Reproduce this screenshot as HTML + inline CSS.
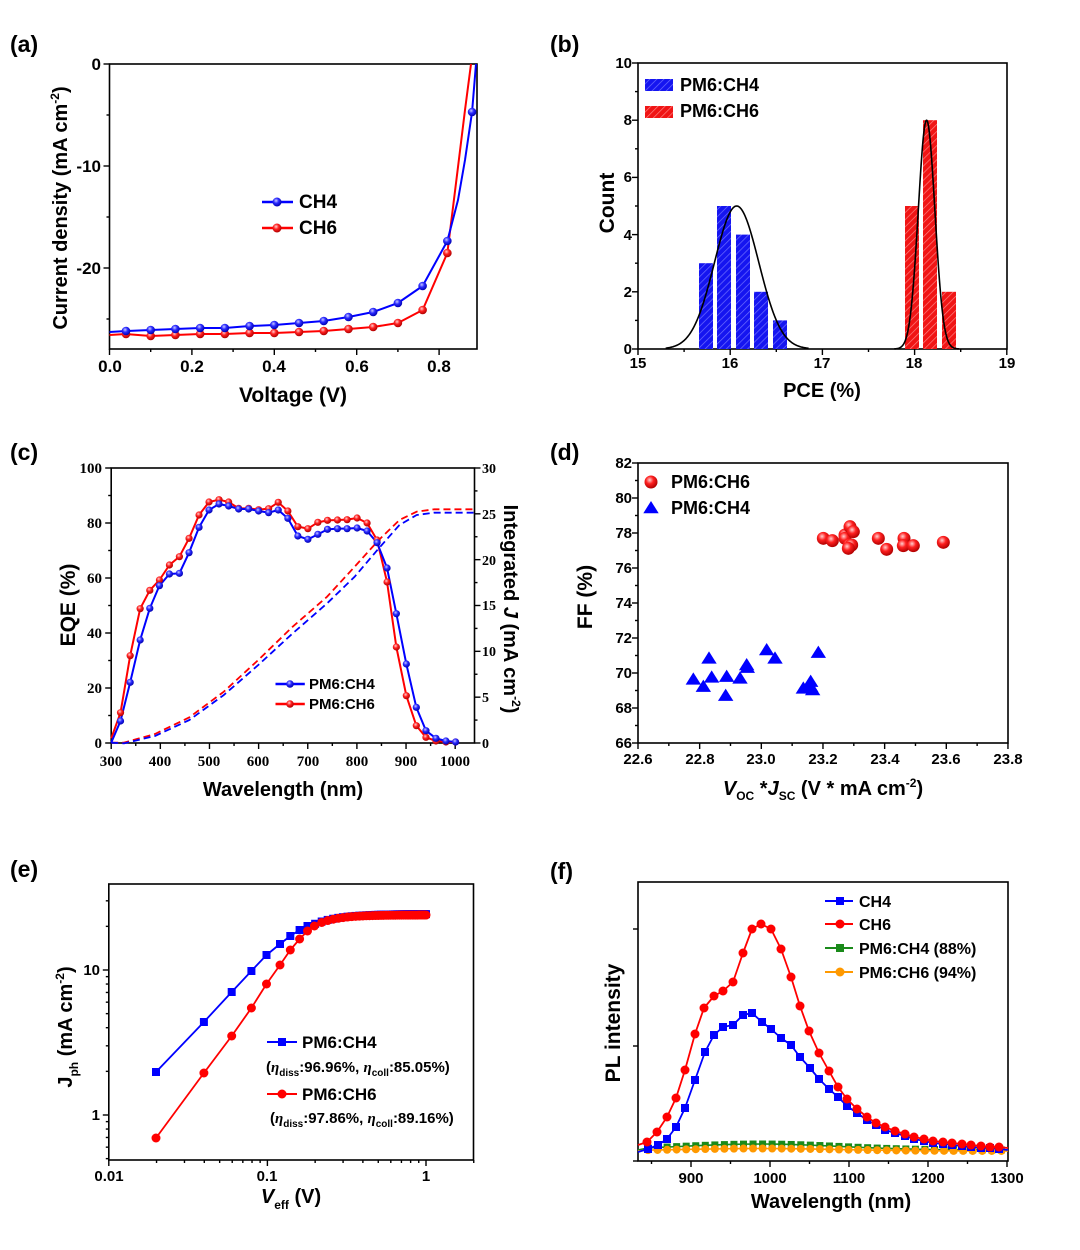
<!DOCTYPE html>
<html><head><meta charset="utf-8">
<style>
html,body{margin:0;padding:0;background:#fff;}
svg{display:block;font-family:"Liberation Sans",Arial,sans-serif;font-weight:bold;}
.serif{font-family:"Liberation Serif","Times New Roman",serif;font-weight:bold;}
</style></head>
<body>
<svg id="s" width="1080" height="1250" viewBox="0 0 1080 1250" xmlns="http://www.w3.org/2000/svg">
<defs>
<pattern id="hb" width="5" height="5" patternUnits="userSpaceOnUse" patternTransform="rotate(45)">
<rect width="5" height="5" fill="#1515f0"/><line x1="0" y1="0" x2="0" y2="5" stroke="#6f6fff" stroke-width="1.4"/></pattern>
<pattern id="hr" width="5" height="5" patternUnits="userSpaceOnUse" patternTransform="rotate(45)">
<rect width="5" height="5" fill="#f01515"/><line x1="0" y1="0" x2="0" y2="5" stroke="#ff8080" stroke-width="1.4"/></pattern>
<radialGradient id="gb" cx="0.4" cy="0.35" r="0.65"><stop offset="0" stop-color="#c8c8ff"/><stop offset="0.45" stop-color="#2a2aff"/><stop offset="1" stop-color="#0000b0"/></radialGradient>
<radialGradient id="gr" cx="0.4" cy="0.35" r="0.65"><stop offset="0" stop-color="#ffd0d0"/><stop offset="0.45" stop-color="#ff2020"/><stop offset="1" stop-color="#b00000"/></radialGradient>
</defs>
<g id="geo"></g>

<text x="10" y="52" font-size="23">(a)</text>
<text x="550" y="52" font-size="23">(b)</text>
<text x="10" y="460" font-size="23">(c)</text>
<text x="550" y="460" font-size="23">(d)</text>
<text x="10" y="877" font-size="23">(e)</text>
<text x="550" y="879" font-size="23">(f)</text>

<!-- (a) -->
<g font-size="17" text-anchor="middle">
<text x="110" y="372">0.0</text><text x="192" y="372">0.2</text><text x="274" y="372">0.4</text><text x="357" y="372">0.6</text><text x="439" y="372">0.8</text>
</g>
<g font-size="17" text-anchor="end">
<text x="101" y="70">0</text><text x="101" y="172">-10</text><text x="101" y="274">-20</text>
</g>
<text x="293" y="402" font-size="21" text-anchor="middle">Voltage (V)</text>
<text transform="translate(67,208) rotate(-90)" font-size="20" text-anchor="middle">Current density (mA cm<tspan font-size="12" dy="-8">-2</tspan><tspan dy="8">)</tspan></text>
<text x="299" y="208" font-size="19">CH4</text>
<text x="299" y="234" font-size="19">CH6</text>

<!-- (b) -->
<g font-size="15" text-anchor="middle">
<text x="638" y="368">15</text><text x="730" y="368">16</text><text x="822" y="368">17</text><text x="914" y="368">18</text><text x="1007" y="368">19</text>
</g>
<g font-size="15" text-anchor="end">
<text x="632" y="354">0</text><text x="632" y="297">2</text><text x="632" y="240">4</text><text x="632" y="182">6</text><text x="632" y="125">8</text><text x="632" y="68">10</text>
</g>
<text x="822" y="397" font-size="20" text-anchor="middle">PCE (%)</text>
<text transform="translate(614,203) rotate(-90)" font-size="21" text-anchor="middle">Count</text>
<rect x="645" y="79" width="28" height="12" fill="url(#hb)"/>
<rect x="645" y="106" width="28" height="12" fill="url(#hr)"/>
<text x="680" y="91" font-size="18">PM6:CH4</text>
<text x="680" y="117" font-size="18">PM6:CH6</text>

<!-- (c) -->
<g class="serif" font-size="15" text-anchor="middle">
<text x="111" y="766">300</text><text x="160" y="766">400</text><text x="209" y="766">500</text><text x="258" y="766">600</text><text x="308" y="766">700</text><text x="357" y="766">800</text><text x="406" y="766">900</text><text x="455" y="766">1000</text>
</g>
<g class="serif" font-size="15" text-anchor="end">
<text x="102" y="748">0</text><text x="102" y="693">20</text><text x="102" y="638">40</text><text x="102" y="583">60</text><text x="102" y="528">80</text><text x="102" y="473">100</text>
</g>
<g class="serif" font-size="14">
<text x="482" y="748">0</text><text x="482" y="702">5</text><text x="482" y="656">10</text><text x="482" y="610">15</text><text x="482" y="565">20</text><text x="482" y="519">25</text><text x="482" y="473">30</text>
</g>
<text x="283" y="796" font-size="20" text-anchor="middle">Wavelength (nm)</text>
<text transform="translate(75,605) rotate(-90)" font-size="21" text-anchor="middle">EQE (%)</text>
<text transform="translate(504,609) rotate(90)" font-size="20" text-anchor="middle">Integrated <tspan font-style="italic">J</tspan> (mA cm<tspan font-size="12" dy="-8">-2</tspan><tspan dy="8">)</tspan></text>
<text x="309" y="689" font-size="15">PM6:CH4</text>
<text x="309" y="709" font-size="15">PM6:CH6</text>

<!-- (d) -->
<g font-size="15" text-anchor="middle">
<text x="638" y="764">22.6</text><text x="700" y="764">22.8</text><text x="761" y="764">23.0</text><text x="823" y="764">23.2</text><text x="885" y="764">23.4</text><text x="946" y="764">23.6</text><text x="1008" y="764">23.8</text>
</g>
<g font-size="15" text-anchor="end">
<text x="632" y="748">66</text><text x="632" y="713">68</text><text x="632" y="678">70</text><text x="632" y="643">72</text><text x="632" y="608">74</text><text x="632" y="573">76</text><text x="632" y="538">78</text><text x="632" y="503">80</text><text x="632" y="468">82</text>
</g>
<text x="823" y="795" font-size="20" text-anchor="middle"><tspan font-style="italic">V</tspan><tspan font-size="12" dy="5">OC</tspan><tspan dy="-5"> *</tspan><tspan font-style="italic">J</tspan><tspan font-size="12" dy="5">SC</tspan><tspan dy="-5"> (V * mA cm</tspan><tspan font-size="12" dy="-8">-2</tspan><tspan dy="8">)</tspan></text>
<text transform="translate(592,597) rotate(-90)" font-size="21" text-anchor="middle">FF (%)</text>
<text x="671" y="488" font-size="18">PM6:CH6</text>
<text x="671" y="514" font-size="18">PM6:CH4</text>

<!-- (e) -->
<g font-size="15" text-anchor="middle">
<text x="109" y="1181">0.01</text><text x="267" y="1181">0.1</text><text x="426" y="1181">1</text>
</g>
<g font-size="15" text-anchor="end">
<text x="100" y="1120">1</text><text x="100" y="975">10</text>
</g>
<text x="291" y="1203" font-size="20" text-anchor="middle"><tspan font-style="italic">V</tspan><tspan font-size="12" dy="6">eff</tspan><tspan dy="-6"> (V)</tspan></text>
<text transform="translate(72,1027) rotate(-90)" font-size="20" text-anchor="middle">J<tspan font-size="12" dy="6">ph</tspan><tspan dy="-6"> (mA cm</tspan><tspan font-size="12" dy="-8">-2</tspan><tspan dy="8">)</tspan></text>
<text x="302" y="1048" font-size="17">PM6:CH4</text>
<text x="266" y="1072" font-size="15">(<tspan font-style="italic" font-family="Liberation Serif">η</tspan><tspan font-size="10" dy="4">diss</tspan><tspan dy="-4">:96.96%, </tspan><tspan font-style="italic" font-family="Liberation Serif">η</tspan><tspan font-size="10" dy="4">coll</tspan><tspan dy="-4">:85.05%)</tspan></text>
<text x="302" y="1100" font-size="17">PM6:CH6</text>
<text x="270" y="1123" font-size="15">(<tspan font-style="italic" font-family="Liberation Serif">η</tspan><tspan font-size="10" dy="4">diss</tspan><tspan dy="-4">:97.86%, </tspan><tspan font-style="italic" font-family="Liberation Serif">η</tspan><tspan font-size="10" dy="4">coll</tspan><tspan dy="-4">:89.16%)</tspan></text>

<!-- (f) -->
<g font-size="15" text-anchor="middle">
<text x="691" y="1183">900</text><text x="770" y="1183">1000</text><text x="849" y="1183">1100</text><text x="928" y="1183">1200</text><text x="1007" y="1183">1300</text>
</g>
<text x="831" y="1208" font-size="20" text-anchor="middle">Wavelength (nm)</text>
<text transform="translate(620,1023) rotate(-90)" font-size="21" text-anchor="middle">PL intensity</text>
<text x="859" y="907" font-size="16">CH4</text>
<text x="859" y="930" font-size="16">CH6</text>
<text x="859" y="954" font-size="16">PM6:CH4 (88%)</text>
<text x="859" y="978" font-size="16">PM6:CH6 (94%)</text>
</svg>
<script>
(function(){
var NS="http://www.w3.org/2000/svg",G=document.getElementById("geo");
function el(t,a){var e=document.createElementNS(NS,t);for(var k in a)e.setAttribute(k,a[k]);G.appendChild(e);return e;}
function ln(x1,y1,x2,y2,c,w,d){var a={x1:x1,y1:y1,x2:x2,y2:y2,stroke:c||"#000","stroke-width":w||1.5};if(d)a["stroke-dasharray"]=d;el("line",a);}
function pl(p,c,w,d){var a={points:p.map(function(q){return q[0]+","+q[1]}).join(" "),fill:"none",stroke:c,"stroke-width":w||1.8,"stroke-linejoin":"round"};if(d)a["stroke-dasharray"]=d;el("polyline",a);}
function box(x1,y1,x2,y2){el("rect",{x:x1,y:y1,width:x2-x1,height:y2-y1,fill:"none",stroke:"#000","stroke-width":1.6});}
function xt(x,y,L){ln(x,y,x,y+L,"#000",1.4);}
function yt(x,y,L){ln(x,y,x-L,y,"#000",1.4);}
function circ(x,y,r,f,s){el("circle",{cx:x,cy:y,r:r,fill:f,stroke:s||"none","stroke-width":1});}
function sq(x,y,h,f){el("rect",{x:x-h,y:y-h,width:2*h,height:2*h,fill:f});}

box(109.5,64,477,349);
for(var i=0;i<=8;i++){var x=109.5+i*0.1*412;xt(x,349,i%2?3:6);}
for(var i=0;i<=5;i++){var y=64+i*51;yt(109.5,y,i%2?3:6);}
var bl=[[109.5,332]],rl=[[109.5,335]];
var bY=[331,330,329,328,328,326,325,323,321,317,312,303,286,241,112];
var rY=[334,336,335,334,334,333,333,332,331,329,327,323,310,253];
for(var k=0;k<bY.length;k++){var x=109.5+412*(0.04+0.06*k);bl.push([x,bY[k]]);if(k==13){bl.push([458,200]);bl.push([465,160]);}}
bl.push([476,64]);
for(var k=0;k<rY.length;k++){var x=109.5+412*(0.04+0.06*k);rl.push([x,rY[k]]);}
rl.push([458,167]);rl.push([465,110]);rl.push([471,64]);
pl(rl,"#ff0000",2);pl(bl,"#0000ff",2);
for(var k=0;k<rY.length;k++)circ(109.5+412*(0.04+0.06*k),rY[k],4.3,"url(#gr)");
for(var k=0;k<bY.length;k++)circ(109.5+412*(0.04+0.06*k),bY[k],4.3,"url(#gb)");
ln(262,202,293,202,"#0000ff",2.5);circ(277,202,4.5,"url(#gb)");
ln(262,228,293,228,"#ff0000",2.5);circ(277,228,4.5,"url(#gr)");

box(638,63,1007,349);
for(var i=0;i<=8;i++){xt(638+i*46.1,349,i%2?3:6);}
for(var i=0;i<=10;i++){yt(638,349-i*28.6,i%2?3:6);}
function bar(x1,x2,c,f){var h=c*28.6;el("rect",{x:x1,y:349-h,width:x2-x1,height:h,fill:f});}
bar(699,713,3,"url(#hb)");bar(717,731,5,"url(#hb)");bar(736,750,4,"url(#hb)");bar(754,768,2,"url(#hb)");bar(773,787,1,"url(#hb)");
bar(905,919,5,"url(#hr)");bar(923,937,8,"url(#hr)");bar(942,956,2,"url(#hr)");
function gauss(mu,s,A,a,b){var p=[];for(var v=a;v<=b;v+=0.005){p.push([638+92.2*(v-15),349-28.6*A*Math.exp(-0.5*Math.pow((v-mu)/s,2))]);}pl(p,"#000",1.6);}
gauss(16.07,0.24,5,15.3,16.85);gauss(18.13,0.09,8,17.78,18.48);

box(111.2,468,474.5,743);
for(var l=300;l<=1050;l+=50){var x=111.2+0.4914*(l-300);if(x<=475)xt(x,743,(l%100)?3:6);}
for(var v=0;v<=100;v+=10)yt(111.2,743-2.75*v,(v%20)?3:6);
for(var j=0;j<=30;j+=2.5){var y=743-9.167*j;ln(474.5,y,474.5+((j%5)?3:6),y,"#000",1.4);}
var s=2.904;
function cx(z){return z/s;}
var bE=[[323,938],[350,873],[378,757],[407,630],[435,535],[463,467],[492,432],[521,430],[549,368],[578,292],[607,240],[636,222],[664,228],[693,237],[722,237],[751,243],[780,248],[808,240],[836,265],[865,318],[894,328],[923,313],[951,298],[980,296],[1008,296],[1037,294],[1066,303],[1095,338],[1124,414],[1151,551],[1180,702],[1209,832],[1237,902],[1266,925],[1295,933],[1323,936]];
var rE=[[323,925],[350,848],[378,677],[407,536],[435,481],[463,450],[492,405],[521,380],[549,325],[578,255],[607,216],[636,209],[664,216],[693,235],[722,235],[751,239],[780,236],[808,217],[836,243],[865,290],[894,296],[923,277],[951,271],[980,270],[1008,269],[1037,264],[1066,279],[1095,330],[1124,456],[1151,651],[1180,797],[1209,887],[1237,922],[1266,933],[1295,936],[1323,936]];
function cv(a){return a.map(function(q){return [cx(q[0]),430+q[1]/3];});}
var rD=[[323,938],[360,938],[450,912],[550,862],[650,785],[750,690],[850,590],[950,500],[1030,410],[1100,330],[1160,270],[1210,245],[1260,238],[1375,238]];
var bD=[[323,938],[360,940],[450,918],[550,870],[650,795],[750,705],[850,610],[950,520],[1030,440],[1100,355],[1160,285],[1210,255],[1260,248],[1375,248]];
pl(cv(rD),"#ff0000",1.8,"7,4");pl(cv(bD),"#0000ff",1.8,"7,4");
var rc=cv(rE),bc=cv(bE);
pl(rc,"#ff0000",2);pl(bc,"#0000ff",2);
rc.forEach(function(q,i){if(i>0)circ(q[0],q[1],3.6,"url(#gr)");});
bc.forEach(function(q,i){if(i>0)circ(q[0],q[1],3.6,"url(#gb)");});
ln(275.5,684,304.8,684,"#0000ff",2.5);circ(290,684,3.8,"url(#gb)");
ln(275.5,704,304.8,704,"#ff0000",2.5);circ(290,704,3.8,"url(#gr)");

box(638,463,1008,743);
for(var i=0;i<=12;i++)xt(638+i*30.83,743,i%2?3:6);
for(var i=0;i<=16;i++)yt(638,743-i*17.5,i%2?3:6);
var rp=[[850,325],[877,332],[915,315],[915,325],[930,290],[940,305],[928,345],[935,345],[925,355],[1015,325],[1040,358],[1092,325],[1090,347],[1120,347],[1210,337]];
var bp=[[460,748],[490,770],[507,685],[515,742],[560,740],[557,797],[600,745],[620,705],[622,713],[680,660],[705,685],[835,668],[790,775],[812,755],[818,780],[812,770]];
function tri(x,y,r,f){el("polygon",{points:(x)+","+(y-r)+" "+(x-r*1.1)+","+(y+r*0.75)+" "+(x+r*1.1)+","+(y+r*0.75),fill:f});}
bp.forEach(function(q){tri(540+q[0]/3,430+q[1]/3,7,"#0000ff");});
rp.forEach(function(q){circ(540+q[0]/3,430+q[1]/3,6.5,"url(#gr)");});
circ(651,482,6.5,"url(#gr)");tri(651,508,7,"#0000ff");

box(108.8,884,473.5,1160);
function ex(v){return 108.8+158.6*Math.log10(v/0.01);}
function ey(j){return 970-145*Math.log10(j/10);}
for(var d=0.01;d<2;d*=10)for(var m=1;m<10;m++){var v=d*m;var x=ex(v);if(x<=474)xt(x,1160,m==1?6:3);}
for(var d=0.1;d<100;d*=10)for(var m=1;m<10;m++){var y=ey(d*m);if(y>=884&&y<=1160)yt(108.8,y,m==1?6:3);}
var bEp=[[156,1072],[203.9,1022],[231.7,992],[251.4,971],[266.5,955],[280,944],[290.3,936],[299.6,930],[307.5,926]];
var rEp=[[156,1138],[203.9,1073],[231.7,1036],[251.4,1008],[266.5,984],[280,965],[290.3,950],[299.6,939],[307.5,931],[314.4,926]];
var bb=bEp.slice(),rr=rEp.slice();
for(var k=bEp.length+1;k<=50;k++){var x=ex(0.02*k);bb.push([x,914+12*Math.exp(-(x-310)/25)]);}
for(var k=rEp.length+1;k<=50;k++){var x=ex(0.02*k);rr.push([x,915+11*Math.exp(-(x-314)/20)]);}
pl(bb,"#0000ff",1.8);
bb.forEach(function(q){sq(q[0],q[1],4,"#0000ff");});
pl(rr,"#ff0000",1.8);
rr.forEach(function(q){circ(q[0],q[1],4.5,"#ff0000");});
ln(267,1042,297,1042,"#0000ff",2);sq(282,1042,4,"#0000ff");
ln(267,1094,297,1094,"#ff0000",2);circ(282,1094,4.5,"#ff0000");

box(638,882,1008,1161);
for(var l=850;l<=1300;l+=50){var x=691+0.79*(l-900);xt(x,1161,(l%100)?3:6);}
[929,1046,1161].forEach(function(y){yt(638,y,5);});
var R=[[647,1142],[657,1132],[667,1117],[676,1098],[685,1070],[695,1034],[704,1008],[714,996],[723,991],[733,982],[743,953],[752,929],[761,924],[771,929],[781,949],[791,977],[800,1006],[809,1031],[819,1053],[829,1071],[838,1087],[847,1099],[857,1109],[867,1117],[876,1123],[885,1127],[895,1131],[905,1134],[914,1137],[924,1139],[933,1141],[943,1142],[952,1143],[962,1144],[971,1145],[981,1146],[990,1147],[999,1147]];
var B=[[648,1149],[658,1145],[667,1139],[676,1127],[685,1108],[695,1080],[705,1052],[714,1035],[723,1027],[733,1025],[743,1015],[752,1013],[762,1022],[771,1029],[781,1038],[791,1045],[800,1057],[810,1068],[819,1079],[829,1089],[838,1097],[847,1106],[857,1113],[867,1120],[876,1125],[885,1130],[895,1133],[905,1136],[914,1139],[924,1141],[933,1143],[943,1144],[952,1145],[962,1146],[971,1147],[981,1148],[990,1148],[999,1149]];
var Gn=[],O=[];
for(var i=0;i<38;i++){var x=648+i*9.55;var g=1150-6*Math.exp(-Math.pow((x-760)/110,2));Gn.push([x,g]);O.push([x,1151-2.5*Math.exp(-Math.pow((x-760)/110,2))]);}
pl([[638,1150]].concat(Gn).concat([[1008,1150]]),"#1a8a1a",1.6);Gn.forEach(function(q){sq(q[0],q[1],3.5,"#1a8a1a");});
pl([[638,1151]].concat(O).concat([[1008,1151]]),"#ff9900",1.6);O.forEach(function(q){circ(q[0],q[1],4,"#ff9900");});
pl([[638,1152]].concat(B).concat([[1008,1150]]),"#0000ff",1.8);B.forEach(function(q){sq(q[0],q[1],4,"#0000ff");});
pl([[638,1145]].concat(R).concat([[1008,1148]]),"#ff0000",1.8);R.forEach(function(q){circ(q[0],q[1],4.5,"#ff0000");});
ln(825,901,853,901,"#0000ff",2);sq(840,901,4,"#0000ff");
ln(825,924,853,924,"#ff0000",2);circ(840,924,4.5,"#ff0000");
ln(825,948,853,948,"#1a8a1a",2);sq(840,948,4,"#1a8a1a");
ln(825,972,853,972,"#ff9900",2);circ(840,972,4.5,"#ff9900");
})();
</script>
</body></html>
